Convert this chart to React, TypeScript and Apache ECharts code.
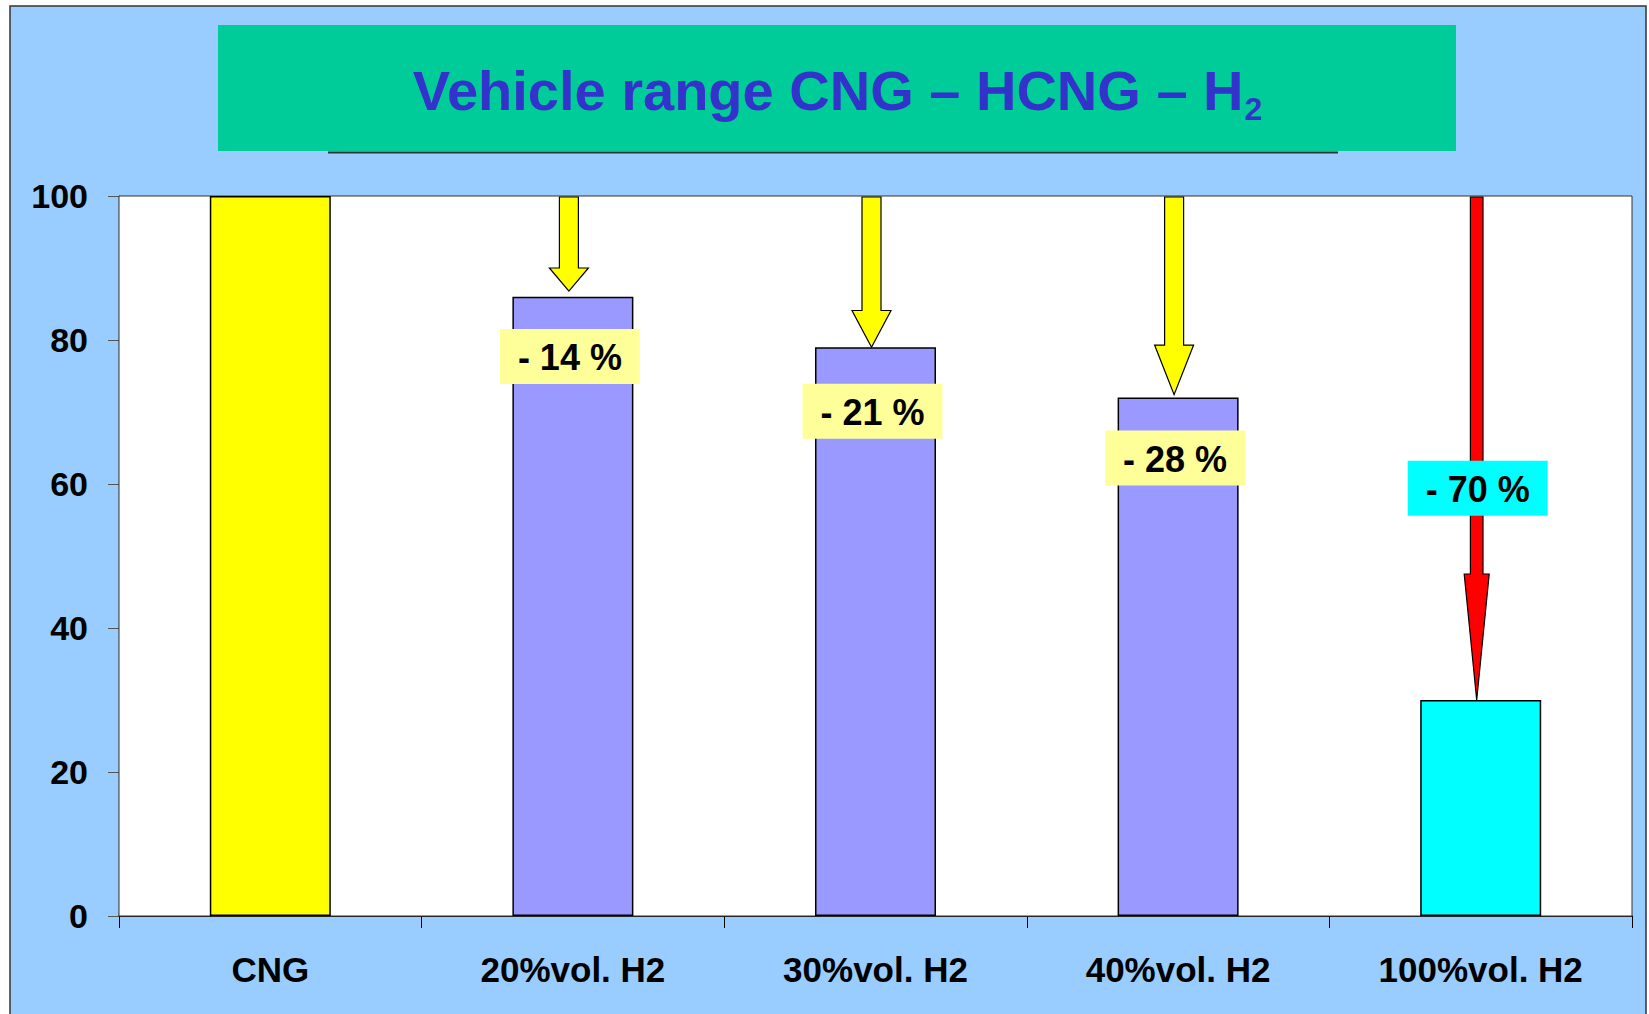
import React, { useEffect, useRef } from "react";
import * as echarts from "echarts";

// ---- data ----
const categories = ["CNG", "20%vol. H2", "30%vol. H2", "40%vol. H2", "100%vol. H2"];
const rangeValues = [100, 86, 79, 72, 30];
const yTicks = [0, 20, 40, 60, 80, 100];

const arrowCategory = [1, 2, 3, 4];
const arrowStart = [100, 100, 100, 100];
const arrowHeadStart = [90, 84.1, 79.3, 47.5];
const arrowTip = [86.8, 79, 72.4, 30];

const reductionText = ["- 14 %", "- 21 %", "- 28 %", "- 70 %"];
const reductionAt = [77.7, 70.1, 63.6, 59.4];

const titleMain = "Vehicle range CNG – HCNG – H";
const titleSub = "2";

// ---- styles ----
const FONT = '"Liberation Sans", Arial, sans-serif';
const BAR_COLORS = ["#FFFF00", "#9999FF", "#9999FF", "#9999FF", "#00FFFF"];
const ARROW_COLORS = ["#FFFF00", "#FFFF00", "#FFFF00", "#FF0000"];
const LABEL_COLORS = ["#FFFF99", "#FFFF99", "#FFFF99", "#00FFFF"];
const TITLE_COLOR = "#3333CC";
const TITLE_SIZE = 56;
const SUB_SIZE = 32;

function measure(text: string, size: number): number {
  const c = document.createElement("canvas").getContext("2d");
  if (!c) return text.length * size * 0.6;
  c.font = `bold ${size}px ${FONT}`;
  return c.measureText(text).width;
}

export default function App() {
  const ref = useRef<HTMLDivElement>(null);

  useEffect(() => {
    if (!ref.current) return;
    const chart = echarts.init(ref.current, null, { renderer: "svg" });

    const wMain = measure(titleMain, TITLE_SIZE);
    const wSub = measure(titleSub, SUB_SIZE);
    const titleX = 837 - (wMain + wSub) / 2;

    const option: any = {
      animation: false,
      backgroundColor: "#ffffff",
      textStyle: { fontFamily: FONT },
      graphic: [
        {
          type: "rect",
          z: -100,
          shape: { x: 10, y: 6, width: 1636, height: 1010 },
          style: { fill: "#99CCFF", stroke: "#333333", lineWidth: 1.5 },
          silent: true,
        },
        {
          type: "rect",
          z: -90,
          shape: { x: 218, y: 25, width: 1238, height: 126 },
          style: { fill: "#00CC99" },
          silent: true,
        },
        {
          type: "line",
          z: -90,
          shape: { x1: 328, y1: 152.5, x2: 1338, y2: 152.5 },
          style: { stroke: "#333333", lineWidth: 2 },
          silent: true,
        },
        {
          type: "text",
          z: 10,
          x: titleX,
          y: 90,
          style: {
            text: titleMain,
            align: "left",
            verticalAlign: "middle",
            fill: TITLE_COLOR,
            fontSize: TITLE_SIZE,
            fontWeight: "bold",
            fontFamily: FONT,
          },
          silent: true,
        },
        {
          type: "text",
          z: 10,
          x: titleX + wMain + 1,
          y: 109,
          style: {
            text: titleSub,
            align: "left",
            verticalAlign: "middle",
            fill: TITLE_COLOR,
            fontSize: SUB_SIZE,
            fontWeight: "bold",
            fontFamily: FONT,
          },
          silent: true,
        },
      ],
      grid: {
        left: 119,
        top: 196,
        width: 1513,
        height: 720,
        show: true,
        backgroundColor: "#ffffff",
        borderColor: "#333333",
        borderWidth: 1,
        z: 2,
      },
      xAxis: {
        type: "category",
        data: categories,
        boundaryGap: true,
        axisLine: { show: true, lineStyle: { color: "#000000", width: 1.5 } },
        axisTick: { show: true, length: 12, interval: 0, lineStyle: { color: "#000000" } },
        axisLabel: {
          interval: 0,
          margin: 36,
          fontSize: 35,
          fontWeight: "bold",
          color: "#000000",
          fontFamily: FONT,
        },
        splitLine: { show: false },
      },
      yAxis: {
        type: "value",
        min: yTicks[0],
        max: yTicks[yTicks.length - 1],
        interval: yTicks[1] - yTicks[0],
        axisLine: { show: true, lineStyle: { color: "#000000", width: 1.2 } },
        axisTick: { show: true, length: 11, lineStyle: { color: "#555555" } },
        axisLabel: {
          margin: 31,
          fontSize: 34,
          fontWeight: "bold",
          color: "#000000",
          fontFamily: FONT,
        },
        splitLine: { show: true, lineStyle: { color: "#666666", width: 1 } },
      },
      series: [
        {
          type: "bar",
          z: 3,
          barWidth: 121,
          data: rangeValues.map((v, i) => ({
            value: v,
            itemStyle: { color: BAR_COLORS[i], borderColor: "#000000", borderWidth: 1.5 },
          })),
        },
        {
          type: "custom",
          z: 4,
          encode: { x: 0, y: [1, 2, 3] },
          data: arrowCategory.map((c, i) => [c, arrowStart[i], arrowHeadStart[i], arrowTip[i]]),
          renderItem: (params: any, api: any) => {
            const i = params.dataIndex;
            const cat = api.value(0);
            const pTop = api.coord([cat, api.value(1)]);
            const pHead = api.coord([cat, api.value(2)]);
            const pTip = api.coord([cat, api.value(3)]);
            const red = ARROW_COLORS[i] === "#FF0000";
            const sw = red ? 6.3 : 9.5;
            const hw = red ? 12.5 : 19.5;
            const cx = pTop[0] - 4;
            return {
              type: "polygon",
              shape: {
                points: [
                  [cx - sw, pTop[1] + 1],
                  [cx + sw, pTop[1] + 1],
                  [cx + sw, pHead[1]],
                  [cx + hw, pHead[1]],
                  [cx, pTip[1]],
                  [cx - hw, pHead[1]],
                  [cx - sw, pHead[1]],
                ],
              },
              style: { fill: ARROW_COLORS[i], stroke: "#000000", lineWidth: 1.2 },
            };
          },
        },
        {
          type: "custom",
          z: 5,
          encode: { x: 0, y: 1 },
          data: arrowCategory.map((c, i) => [c, reductionAt[i]]),
          renderItem: (params: any, api: any) => {
            const i = params.dataIndex;
            const p = api.coord([api.value(0), api.value(1)]);
            const cx = p[0] - 3;
            const w = 140;
            const h = 55;
            return {
              type: "group",
              children: [
                {
                  type: "rect",
                  shape: { x: cx - w / 2, y: p[1] - h / 2, width: w, height: h },
                  style: { fill: LABEL_COLORS[i] },
                },
                {
                  type: "text",
                  x: cx,
                  y: p[1] + 1,
                  style: {
                    text: reductionText[i],
                    align: "center",
                    verticalAlign: "middle",
                    fontSize: 36,
                    fontWeight: "bold",
                    fontFamily: FONT,
                    fill: "#000000",
                  },
                },
              ],
            };
          },
        },
      ],
    };

    chart.setOption(option);
    return () => chart.dispose();
  }, []);

  return (
    <div
      ref={ref}
      style={{ position: "absolute", left: 0, top: 0, width: 1649, height: 1014 }}
    />
  );
}
